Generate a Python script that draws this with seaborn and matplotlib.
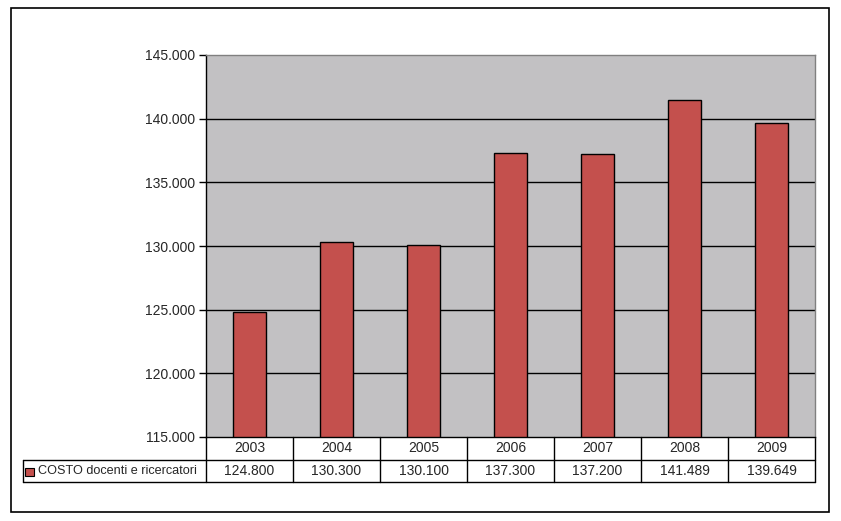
import matplotlib
matplotlib.use("Agg")
import matplotlib.pyplot as plt
import seaborn as sns
import pandas as pd
from matplotlib.lines import Line2D
from matplotlib.patches import Rectangle
from matplotlib.ticker import FuncFormatter

years = ["2003", "2004", "2005", "2006", "2007", "2008", "2009"]
values = [124800, 130300, 130100, 137300, 137200, 141489, 139649]
value_labels = ["124.800", "130.300", "130.100", "137.300", "137.200", "141.489", "139.649"]
series_name = "COSTO docenti e ricercatori"

sns.set_style("white")
plt.rcParams["font.family"] = ["Liberation Sans", "DejaVu Sans"]

df = pd.DataFrame({"year": years, "value": values})

fig = plt.figure(figsize=(8.41, 5.21), dpi=100)
W, H = 841, 521
L, R, T, B = 206, 815, 55, 437
ax = fig.add_axes([L / W, 1 - B / H, (R - L) / W, (B - T) / H])
ax.set_facecolor("#C2C1C3")

sns.barplot(data=df, x="year", y="value", color="#C4504D", width=0.39,
            edgecolor="black", linewidth=1, saturation=1, ax=ax, zorder=3)

ax.set_ylim(115000, 145000)
ax.set_xlim(-0.5, len(years) - 0.5)
ax.set_yticks(range(115000, 145001, 5000))
ax.yaxis.set_major_formatter(FuncFormatter(lambda v, p: f"{int(v):,}".replace(",", ".")))
ax.tick_params(axis="y", length=5, width=1, color="black", labelsize=10, direction="out", pad=3, left=True)
ax.tick_params(axis="x", length=0, labelbottom=False)
ax.set_xlabel("")
ax.set_ylabel("")
for v in range(120000, 145000, 5000):
    ax.axhline(v, color="black", lw=1, zorder=1)
ax.spines["left"].set_color("black")
ax.spines["bottom"].set_color("black")
ax.spines["top"].set_color("#808080")
ax.spines["right"].set_color("#808080")
for s in ax.spines.values():
    s.set_linewidth(1)
    s.set_zorder(4)

# data table
ph = B - T
r1 = -(460 - B) / ph
r2 = -(482 - B) / ph
legx = (23 - L) / (R - L)
bt = ax.get_xaxis_transform()
for i in range(len(years) + 1):
    ax.add_line(Line2D([i - 0.5, i - 0.5], [0, r2], transform=bt, color="black", lw=1, clip_on=False))
for yy in (r1, r2):
    ax.add_line(Line2D([legx, 1], [yy, yy], transform=ax.transAxes, color="black", lw=1, clip_on=False))
ax.add_line(Line2D([legx, legx], [r1, r2], transform=ax.transAxes, color="black", lw=1, clip_on=False))
for i, (yr, lab) in enumerate(zip(years, value_labels)):
    ax.text(i, r1 / 2, yr, transform=bt, ha="center", va="center", fontsize=10)
    ax.text(i, (r1 + r2) / 2, lab, transform=bt, ha="center", va="center", fontsize=10)

# legend key in table
fig.add_artist(Rectangle((25 / W, 1 - 476 / H), 9 / W, 8 / H, transform=fig.transFigure,
                         facecolor="#C4504D", edgecolor="black", lw=0.8))
fig.text(38 / W, 1 - 471.5 / H, series_name, ha="left", va="center", fontsize=9.1)

# outer border
fig.add_artist(Rectangle((11 / W, 1 - 512 / H), (829 - 11) / W, (512 - 8) / H,
                         transform=fig.transFigure, fill=False, edgecolor="black", lw=1.2))

fig.savefig("out.png", dpi=100)
